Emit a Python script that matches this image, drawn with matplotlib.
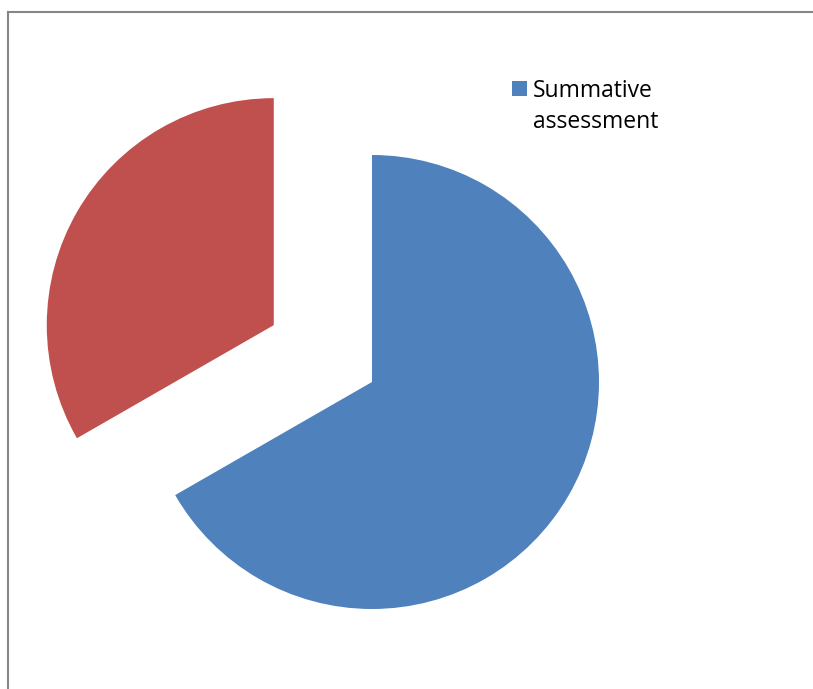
import matplotlib.pyplot as plt
from matplotlib.lines import Line2D
from matplotlib.patches import Rectangle

labels = ['Summative\nassessment', '']
values = [66.7, 33.3]
colors = ['#4F81BD', '#C0504D']
explode = [0, 0.5]

W, H = 813, 689
R = 227.0          # pie radius, px
cx, cy = 372, 382  # centre of the blue slice, px from top-left

fig = plt.figure(figsize=(W / 100, H / 100), dpi=100)
ax = fig.add_axes([0, 0, 1, 1])
wedges, _ = ax.pie(values, colors=colors, explode=explode, startangle=90,
                   counterclock=False, radius=1, wedgeprops=dict(linewidth=0))
ax.set_xlim(-cx / R, (W - cx) / R)
ax.set_ylim(-(H - cy) / R, cy / R)
ax.set_aspect('auto')
ax.axis('off')

# legend: only the first entry is shown, square key aligned with the first line
fig.add_artist(Rectangle((512 / W, 1 - 96 / H), 15 / W, 15 / H,
                         transform=fig.transFigure, facecolor=wedges[0].get_facecolor(),
                         edgecolor='none'))
# va='baseline' sits on the last line's baseline
fig.text(533 / W, 1 - 128 / H, labels[0], ha='left', va='baseline',
         family='Open Sans', fontsize=16.5, linespacing=1.4, color='black')

# chart-area border (top and left visible)
fig.add_artist(Line2D([7.5 / W, 7.5 / W], [0, 1 - 11.5 / H], color='#868686', lw=1.5,
                      transform=fig.transFigure, solid_capstyle='projecting'))
fig.add_artist(Line2D([7.5 / W, 1], [1 - 11.5 / H, 1 - 11.5 / H], color='#868686', lw=1.5,
                      transform=fig.transFigure, solid_capstyle='projecting'))

fig.savefig('out.png', dpi=100)
